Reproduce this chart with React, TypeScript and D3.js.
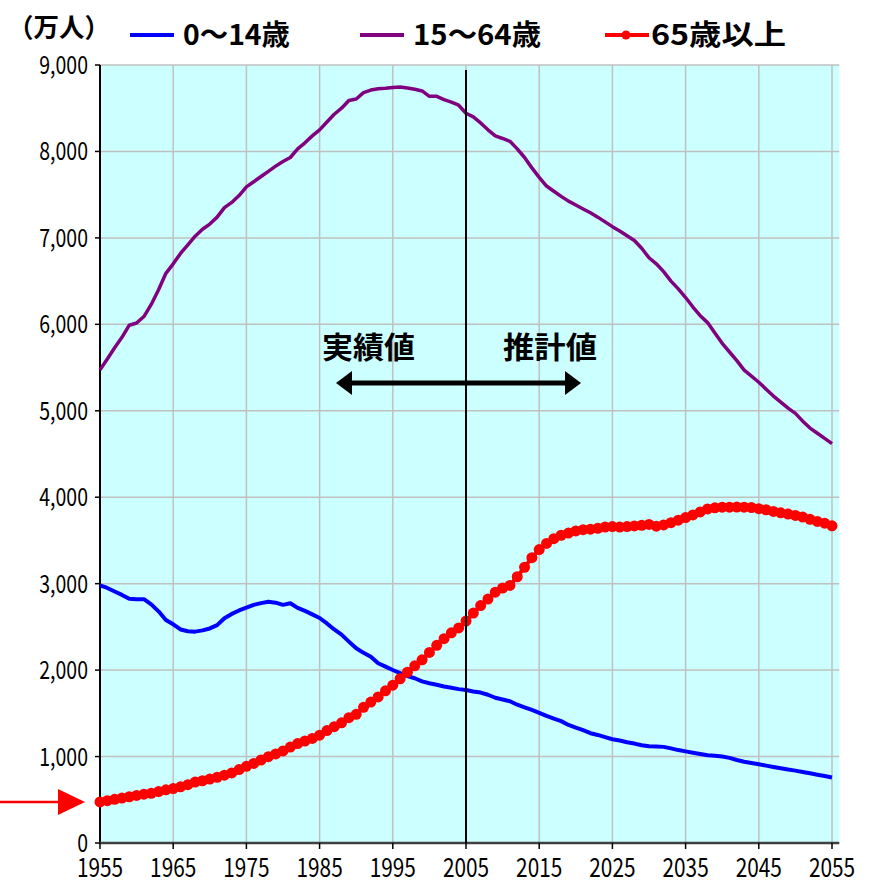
import * as d3 from "d3"
import { useEffect, useRef } from "react"

// 年次（1955〜2055）
const years = d3.range(1955, 2056)

// 0～14歳（万人）
const age0to14 = [
  2980, 2950, 2910, 2870, 2825, 2820, 2820, 2760, 2680, 2580,
  2530, 2470, 2450, 2445, 2460, 2482, 2520, 2600, 2650, 2690,
  2722, 2755, 2775, 2790, 2780, 2755, 2774, 2720, 2685, 2645,
  2603, 2540, 2470, 2410, 2330, 2253, 2200, 2155, 2080, 2040,
  2001, 1965, 1930, 1906, 1870, 1848, 1830, 1810, 1795, 1780,
  1770, 1752, 1740, 1715, 1680, 1660, 1640, 1600, 1570, 1540,
  1505, 1470, 1440, 1410, 1366, 1335, 1305, 1270, 1250, 1225,
  1200, 1185, 1165, 1150, 1130, 1118, 1115, 1112, 1095, 1075,
  1060, 1045, 1030, 1015, 1008, 1000, 985, 960, 940, 925,
  910, 895, 880, 865, 850, 837, 822, 806, 790, 775,
  758,
]

// 15～64歳（万人）
const age15to64 = [
  5473, 5600, 5730, 5850, 5990, 6015, 6090, 6230, 6400, 6590,
  6700, 6820, 6920, 7020, 7100, 7160, 7240, 7350, 7410, 7490,
  7590, 7650, 7710, 7770, 7830, 7884, 7930, 8030, 8100, 8180,
  8250, 8340, 8430, 8500, 8590, 8607, 8680, 8710, 8725, 8730,
  8740, 8746, 8735, 8720, 8700, 8638, 8638, 8600, 8570, 8535,
  8442, 8400, 8330, 8250, 8180, 8150, 8117, 8030, 7930, 7810,
  7700, 7600, 7540, 7480, 7425, 7380, 7335, 7290, 7240, 7185,
  7130, 7080, 7025, 6970, 6880, 6770, 6700, 6610, 6500, 6410,
  6310, 6200, 6100, 6020, 5900, 5780, 5680, 5580, 5470, 5400,
  5330, 5250, 5170, 5100, 5030, 4970, 4880, 4800, 4740, 4680,
  4620,
]

// 65歳以上（万人）
const age65plus = [
  475, 490, 505, 520, 535, 550, 565, 575, 595, 615,
  630, 650, 675, 705, 720, 739, 760, 785, 810, 850,
  887, 920, 960, 999, 1030, 1065, 1110, 1150, 1180, 1210,
  1247, 1300, 1345, 1390, 1450, 1489, 1570, 1630, 1690, 1760,
  1826, 1900, 1976, 2050, 2119, 2204, 2287, 2363, 2431, 2488,
  2567, 2660, 2746, 2822, 2901, 2950, 2980, 3080, 3190, 3300,
  3395, 3465, 3520, 3560, 3585, 3610, 3625, 3630, 3640, 3655,
  3660, 3655, 3660, 3668, 3675, 3685, 3665, 3680, 3705, 3735,
  3765, 3795, 3830, 3865, 3878, 3885, 3885, 3887, 3885, 3880,
  3868, 3855, 3835, 3820, 3805, 3790, 3770, 3745, 3720, 3700,
  3669,
]

const yearTicks = [1955, 1965, 1975, 1985, 1995, 2005, 2015, 2025, 2035, 2045, 2055]
const popTicks = [0, 1000, 2000, 3000, 4000, 5000, 6000, 7000, 8000, 9000]
const seriesNames = ["0～14歳", "15～64歳", "65歳以上"]
const seriesColors = ["#0000FF", "#800080", "#FF0000"]
const splitYear = 2005

const FONT = "'Noto Sans CJK JP', 'Liberation Sans', sans-serif"

export default function App() {
  const svgRef = useRef<SVGSVGElement>(null)

  useEffect(() => {
    if (!svgRef.current) return
    const svg = d3.select(svgRef.current)
    svg.selectAll("*").remove()

    const x = d3.scaleLinear().domain([1955, 2055]).range([100, 832])
    const y = d3.scaleLinear().domain([0, 9000]).range([843, 65])
    const left = x(1955)
    const right = x(2056)
    const top = y(9000)
    const bottom = y(0)

    // plot background
    svg.append("rect")
      .attr("x", left).attr("y", top)
      .attr("width", right - left).attr("height", bottom - top)
      .attr("fill", "#CCFFFF")

    // grid
    svg.append("g").selectAll("line")
      .data(popTicks.slice(1))
      .enter().append("line")
      .attr("x1", left).attr("x2", right)
      .attr("y1", (d) => y(d)).attr("y2", (d) => y(d))
      .attr("stroke", "#C0C0C0").attr("stroke-width", 1.5)
    svg.append("g").selectAll("line")
      .data(yearTicks.slice(1))
      .enter().append("line")
      .attr("x1", (d) => x(d)).attr("x2", (d) => x(d))
      .attr("y1", top).attr("y2", bottom)
      .attr("stroke", "#C0C0C0").attr("stroke-width", 1.5)

    // axes
    svg.append("line")
      .attr("x1", left).attr("x2", left).attr("y1", top).attr("y2", bottom)
      .attr("stroke", "#000").attr("stroke-width", 2)
    svg.append("line")
      .attr("x1", left - 1).attr("x2", right).attr("y1", bottom).attr("y2", bottom)
      .attr("stroke", "#404040").attr("stroke-width", 2.5)

    svg.append("g").selectAll("line")
      .data(popTicks)
      .enter().append("line")
      .attr("x1", left - 5).attr("x2", left)
      .attr("y1", (d) => y(d)).attr("y2", (d) => y(d))
      .attr("stroke", "#000").attr("stroke-width", 1.5)
    svg.append("g").selectAll("line")
      .data(yearTicks)
      .enter().append("line")
      .attr("x1", (d) => x(d)).attr("x2", (d) => x(d))
      .attr("y1", bottom).attr("y2", bottom + 6)
      .attr("stroke", "#000").attr("stroke-width", 1.5)

    // tick labels
    svg.append("g").selectAll("text")
      .data(popTicks)
      .enter().append("text")
      .attr("transform", (d) => `translate(88,${y(d) + 9}) scale(0.78,1)`)
      .attr("text-anchor", "end")
      .style("font-family", FONT)
      .style("font-size", "25px")
      .text((d) => d3.format(",")(d))
    svg.append("g").selectAll("text")
      .data(yearTicks)
      .enter().append("text")
      .attr("transform", (d) => `translate(${x(d)},${bottom + 34}) scale(0.8,1)`)
      .attr("text-anchor", "middle")
      .style("font-family", FONT)
      .style("font-size", "26px")
      .text((d) => d)

    // series lines
    const line = d3.line<number>()
      .x((_, i) => x(years[i]))
      .y((d) => y(d))
    const series = [age0to14, age15to64, age65plus]
    ;[1, 0, 2].forEach((k) => {
      svg.append("path")
        .attr("d", line(series[k]))
        .attr("fill", "none")
        .attr("stroke", seriesColors[k])
        .attr("stroke-width", k === 1 ? 3.5 : 4)
        .attr("stroke-linejoin", "round")
    })
    svg.append("g").selectAll("circle")
      .data(age65plus)
      .enter().append("circle")
      .attr("cx", (_, i) => x(years[i]))
      .attr("cy", (d) => y(d))
      .attr("r", 5.5)
      .attr("fill", seriesColors[2])

    // split line (actual / projection)
    svg.append("line")
      .attr("x1", x(splitYear)).attr("x2", x(splitYear))
      .attr("y1", top + 5).attr("y2", bottom)
      .attr("stroke", "#000").attr("stroke-width", 2)

    // annotation
    const ann = svg.append("g")
    ann.append("text").attr("x", 322).attr("y", 358)
      .attr("textLength", 93).attr("lengthAdjust", "spacingAndGlyphs")
      .style("font-family", FONT).style("font-size", "30px").style("font-weight", "bold")
      .text("実績値")
    ann.append("text").attr("x", 503).attr("y", 358)
      .attr("textLength", 94).attr("lengthAdjust", "spacingAndGlyphs")
      .style("font-family", FONT).style("font-size", "30px").style("font-weight", "bold")
      .text("推計値")
    ann.append("line").attr("x1", 348).attr("x2", 570).attr("y1", 383).attr("y2", 383)
      .attr("stroke", "#000").attr("stroke-width", 5)
    ann.append("path").attr("d", "M336,383L352,371L352,395Z").attr("fill", "#000")
    ann.append("path").attr("d", "M581,383L565,371L565,395Z").attr("fill", "#000")

    // red pointer at the left
    svg.append("line").attr("x1", 0).attr("x2", 62).attr("y1", y(age65plus[0])).attr("y2", y(age65plus[0]))
      .attr("stroke", "#FF0000").attr("stroke-width", 2.5)
    svg.append("path")
      .attr("d", `M58,${y(age65plus[0]) - 13}L85,${y(age65plus[0])}L58,${y(age65plus[0]) + 13}Z`)
      .attr("fill", "#FF0000")

    // legend
    svg.append("text").attr("x", 8).attr("y", 37)
      .attr("textLength", 102).attr("lengthAdjust", "spacingAndGlyphs")
      .style("font-family", FONT).style("font-size", "26px").style("font-weight", "bold")
      .text("（万人）")
    const legendX = [130, 360, 605]
    const legendTextLen = [107, 128, 135]
    seriesNames.forEach((name, k) => {
      const g = svg.append("g").attr("transform", `translate(${legendX[k]},35)`)
      g.append("line").attr("x1", 0).attr("x2", 44).attr("y1", 0).attr("y2", 0)
        .attr("stroke", seriesColors[k]).attr("stroke-width", 4)
      if (k === 2) g.append("circle").attr("cx", 21).attr("cy", 0).attr("r", 4.5).attr("fill", seriesColors[k])
      g.append("text").attr("x", k === 2 ? 46 : 53).attr("y", 10)
        .attr("textLength", legendTextLen[k]).attr("lengthAdjust", "spacingAndGlyphs")
        .style("font-family", FONT).style("font-size", "28px").style("font-weight", "bold")
        .text(name)
    })
  }, [])

  return <svg ref={svgRef} width={869} height={881} style={{ position: "absolute", left: 0, top: 0 }} />
}
